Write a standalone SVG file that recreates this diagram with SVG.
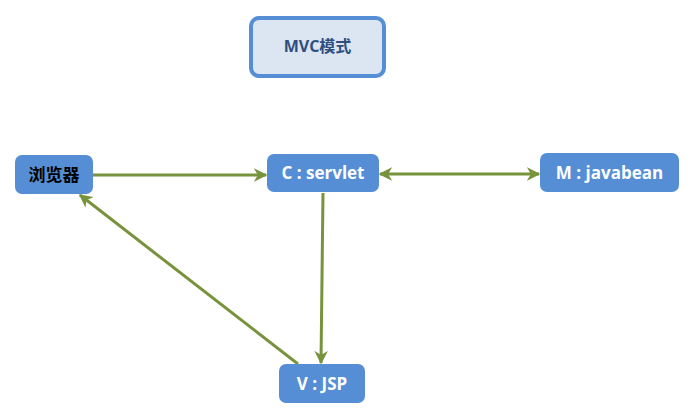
<svg xmlns="http://www.w3.org/2000/svg" width="695" height="419" viewBox="0 0 695 419">
<style>
.node{fill:#558ed5;}
.t{font-family:"Open Sans","Noto Sans CJK SC",sans-serif;font-weight:bold;font-size:17px;text-anchor:middle;dominant-baseline:central;fill:#ffffff;}
.c{stroke:#77933c;stroke-width:3;fill:none;}
</style>
<defs>
<marker id="ah" viewBox="0 0 10 10" refX="9" refY="5" markerWidth="4.5" markerHeight="4.5" orient="auto-start-reverse" markerUnits="strokeWidth">
<path d="M0,0 L10,5 L0,10 L3,5 Z" fill="#77933c"/>
</marker>
</defs>
<rect width="695" height="419" fill="#ffffff"/>
<g id="title">
<rect x="251" y="18" width="133" height="58" rx="8" fill="#dce6f2" stroke="#558ed5" stroke-width="4"/>
<text class="t" x="317.5" y="46" style="fill:#2f4f7f;font-size:16px">MVC模式</text>
</g>
<g id="connectors">
<line class="c" x1="93" y1="175" x2="266" y2="175" marker-end="url(#ah)"/>
<line class="c" x1="380" y1="174" x2="539" y2="174" marker-start="url(#ah)" marker-end="url(#ah)"/>
<line class="c" x1="323" y1="193" x2="321" y2="363" marker-end="url(#ah)"/>
<line class="c" x1="298" y1="364" x2="80" y2="195" marker-end="url(#ah)"/>
</g>
<g id="browser">
<rect class="node" x="15" y="155" width="78" height="39" rx="7"/>
<text class="t" x="54" y="174" style="fill:#000000">浏览器</text>
</g>
<g id="controller">
<rect class="node" x="267" y="154" width="112" height="38" rx="7"/>
<text class="t" x="323" y="172">C : servlet</text>
</g>
<g id="model">
<rect class="node" x="540" y="153" width="139" height="39" rx="7"/>
<text class="t" x="609.5" y="172">M : javabean</text>
</g>
<g id="view">
<rect class="node" x="279" y="364" width="86" height="39" rx="7"/>
<text class="t" x="322" y="383">V : JSP</text>
</g>
</svg>
